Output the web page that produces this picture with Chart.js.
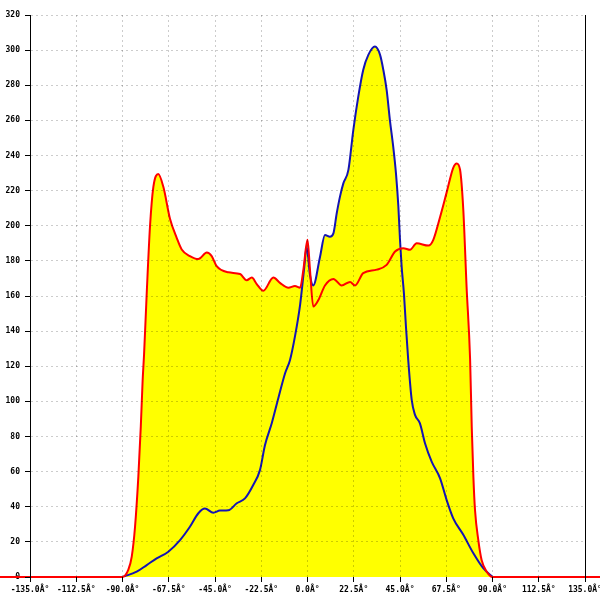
<!DOCTYPE html>
<html>
<head>
<meta charset="utf-8">
<script src="https://cdn.jsdelivr.net/npm/chart.js@4"></script>
<style>
    html, body { margin: 0; padding: 0; background: #fff; }
</style>
</head>
<body>
<canvas id="profileChart" width="600" height="600"></canvas>
<script>
// Red profile (filled yellow), angle in degrees
const redAngles = [-180, -90, -87.2, -85.5, -83.9, -82.3, -81.1, -80.2, -79.5, -78.2,
    -76.6, -75.0, -72.6, -70.1, -66.9, -63.6, -61.2, -57.2, -53.1, -49.0,
    -46.6, -44.2, -38.5, -32.8, -29.6, -27.1, -24.7, -21.5, -16.6, -13.4,
    -9.3, -6.1, -3.6, -2.0, 0, 1.2, 2.8, 5.3, 8.5, 12.6,
    16.6, 20.7, 23.1, 27.1, 33.7, 38.5, 42.6, 46.6, 49.9, 53.1,
    58.8, 61.2, 64.5, 67.7, 70.9, 72.6, 74.2, 75.8, 77.4, 79.1,
    79.9, 80.7, 81.5, 83.1, 84.7, 87.2, 90, 180];
const redCounts = [0, 0, 4, 11.6, 28.6, 57, 85.6, 112, 127, 162,
    200, 222, 229.5, 222, 204, 193, 186.5, 182.7, 181, 184.7,
    182.7, 177, 173.5, 172.5, 169, 170.5, 166.8, 163, 170.5, 167.5,
    164.7, 165.7, 164.7, 175, 192, 175, 154, 157.7, 166, 169.7,
    166, 168, 166, 173, 175, 177.7, 185.3, 187.2, 186.3, 190,
    188.7, 192, 205, 219, 233, 235.5, 232, 209, 165, 124,
    85.6, 57, 38, 21, 9.7, 3, 0, 0];

// Blue profile
const blueAngles = [-90, -83.1, -78.2, -73.4, -67.7, -62.0, -57.2, -53.1, -49.9, -45.8,
    -42.6, -38.5, -34.4, -30.4, -26.4, -23.1, -20.7, -17.4, -14.2, -10.9,
    -8.5, -6.1, -3.6, -1.7, -0.4, 1.2, 2.8, 6.1, 8.5, 10.9,
    12.6, 14.2, 15.8, 17.4, 19.9, 22.3, 24.7, 27.1, 29.6, 32.8,
    35.3, 36.9, 38.5, 40.1, 41.7, 43.1, 44.2, 45.0, 45.8, 46.9,
    47.9, 49.0, 50.7, 52.3, 54.7, 57.2, 60.4, 64.5, 67.7, 70.9,
    75.8, 80.7, 85.5, 90];
const blueCounts = [0, 3, 6.8, 10.6, 14.4, 21, 28.6, 36.3, 39, 36.6,
    37.8, 38, 42, 44.8, 52.4, 61, 75, 87.5, 101.8, 116,
    123.6, 137, 155, 175, 188, 172, 166, 182.4, 194.7, 193.8,
    195.7, 207, 216.6, 224, 231.8, 254.6, 273.5, 288.7, 297.3, 302,
    297.3, 288.7, 277.3, 260, 245, 229, 211, 192, 176.7, 161.6,
    142.5, 123.6, 100.8, 92.3, 87.5, 76, 65.7, 56.2, 43.8, 33.4,
    24, 13.5, 5, 0];

// Axis tick labels (the degree sign is shown mis-encoded in the original)
const xTickLabels = ['-135.0Â°', '-112.5Â°', '-90.0Â°', '-67.5Â°', '-45.0Â°', '-22.5Â°',
    '0.0Â°', '22.5Â°', '45.0Â°', '67.5Â°', '90.0Â°', '112.5Â°', '135.0Â°'];
const yTicks = [0, 20, 40, 60, 80, 100, 120, 140, 160, 180, 200, 220, 240, 260, 280, 300, 320];

const toPoints = (xs, ys) => xs.map((x, i) => ({ x: x, y: ys[i] }));

const tickFont = { family: '"DejaVu Sans Mono", monospace', size: 8, weight: 'bold' };
const gridColor = 'rgba(0, 0, 0, 0.2)';
const gridDash = [2, 3];

const ctx = document.getElementById('profileChart').getContext('2d');
new Chart(ctx, {
    type: 'line',
    data: {
        datasets: [{
            label: 'red',
            data: toPoints(redAngles, redCounts),
            borderColor: '#ff0000',
            borderWidth: 2,
            backgroundColor: '#ffff00',
            fill: 'origin',
            pointRadius: 0,
            cubicInterpolationMode: 'monotone',
            clip: false
        }, {
            label: 'blue',
            data: toPoints(blueAngles, blueCounts),
            borderColor: '#1414b4',
            borderWidth: 2,
            backgroundColor: '#ffff00',
            fill: 'origin',
            pointRadius: 0,
            cubicInterpolationMode: 'monotone'
        }]
    },
    options: {
        responsive: false,
        animation: false,
        layout: { padding: { top: 15, left: 0, right: 0, bottom: 0 } },
        plugins: {
            legend: { display: false },
            tooltip: { enabled: false },
            filler: { drawTime: 'beforeDatasetsDraw' }
        },
        scales: {
            x: {
                type: 'linear',
                min: -135,
                max: 135,
                ticks: {
                    stepSize: 22.5,
                    autoSkip: false,
                    maxRotation: 0,
                    padding: 3,
                    color: '#000',
                    font: tickFont,
                    callback: (value, index) => xTickLabels[index]
                },
                grid: { color: gridColor, z: 1, tickLength: 5, tickColor: '#000', tickBorderDash: [] },
                // baseline is covered by the red line, so no border line here
                border: { display: false, dash: gridDash },
                afterFit: (scale) => { scale.height = 23; scale.paddingLeft = 0; scale.paddingRight = 0; }
            },
            y: {
                min: 0,
                max: 320,
                afterBuildTicks: (scale) => { scale.ticks = yTicks.map(v => ({ value: v })); },
                ticks: { padding: 5, color: '#000', font: tickFont },
                grid: {
                    // keep the zero line clear so the red baseline shows
                    color: (c) => (c.tick && c.tick.value === 0) ? 'rgba(0,0,0,0)' : gridColor,
                    z: 1, tickLength: 5, tickColor: '#000', tickBorderDash: []
                },
                border: { display: true, color: '#000', dash: gridDash, z: 2 },
                afterFit: (scale) => { scale.width = 30; scale.paddingTop = 0; scale.paddingBottom = 0; }
            },
            yRight: {
                position: 'right',
                min: 0,
                max: 320,
                ticks: { display: false },
                grid: { display: false, z: 1 },
                border: { display: true, color: '#000', z: 2 },
                afterFit: (scale) => { scale.width = 15; }
            }
        }
    }
});
</script>
</body>
</html>
